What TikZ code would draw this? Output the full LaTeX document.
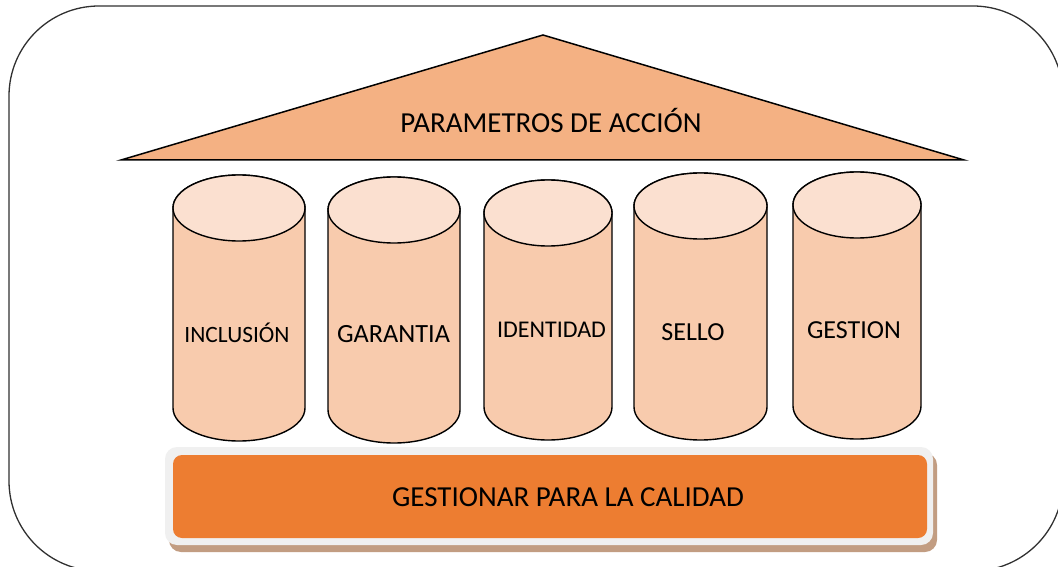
\documentclass[tikz,border=0pt]{standalone}
\usepackage{fontspec}
\setmainfont{Carlito}
\definecolor{roofc}{HTML}{F4B183}
\definecolor{sidec}{HTML}{F8CBAD}
\definecolor{topc}{HTML}{FBE0D0}
\definecolor{barc}{HTML}{ED7D31}
\definecolor{rimc}{HTML}{F0F0F0}
\definecolor{shadc}{HTML}{C29D82}
\definecolor{framec}{HTML}{303030}
\newcommand\pillar[9]{%
  \pgfmathsetmacro\pxa{#2}\pgfmathsetmacro\pxb{#3}%
  \pgfmathsetmacro\prx{(#3-#2)/2}\pgfmathsetmacro\pcx{(#2+#3)/2}%
  \pgfmathsetmacro\ptop{#4+33}\pgfmathsetmacro\pbot{#5-33}%
  \draw[pillarside] (\pxa,\ptop) -- (\pxa,\pbot)
     arc[start angle=180,end angle=0,x radius=\prx,y radius=33]
     -- (\pxb,\ptop)
     arc[start angle=0,end angle=-180,x radius=\prx,y radius=33] -- cycle;
  \draw[pillartop] (\pcx,\ptop) ellipse[x radius=\prx,y radius=33];
  \node[pillarlabel,font=\fontsize{#7}{#7}\selectfont] (#1) at (#8,#9) {#6};
}
\begin{document}
\begin{tikzpicture}[x=1pt,y=-1pt,
  frame/.style={draw=framec,line width=1.3pt,rounded corners=90pt},
  roof/.style={draw=black,line width=1.5pt,fill=roofc,line join=miter},
  pillarside/.style={draw=black,line width=1.4pt,fill=sidec},
  pillartop/.style={draw=black,line width=1.4pt,fill=topc},
  pillarlabel/.style={inner sep=0pt,text=black},
  bigtext/.style={inner sep=0pt,text=black,font=\fontsize{29}{34}\selectfont}]
\useasboundingbox (0,0) rectangle (1058,567);
\clip (0,0) rectangle (1058,567);
\fill[white] (0,0) rectangle (1058,567);
\draw[frame] (9,6) rectangle (1063,571);
% roof
\coordinate (rl) at (121,160);
\coordinate (rt) at (543,35);
\coordinate (rr) at (964,160);
\draw[roof] (rl) -- (rt) -- (rr) -- cycle;
\node[bigtext] (roofText) at (551,120) {PARAMETROS DE ACCIÓN};
% pillars
\pillar{p1}{173}{305}{175}{441}{INCLUSIÓN}{23.4}{237}{333}
\pillar{p2}{328}{460}{177}{443}{GARANTIA}{26.3}{393.5}{334}
\pillar{p3}{484}{612}{180}{440}{IDENTIDAD}{24}{551.5}{330}
\pillar{p4}{634}{767}{173}{440}{SELLO}{26}{693}{332}
\pillar{p5}{793}{921}{172}{439}{GESTION}{26}{854}{330}
% base
\fill[shadc,rounded corners=12pt] (169,453) rectangle (937,552);
\fill[rimc,rounded corners=12pt] (165,447) rectangle (933,545);
\node[fill=barc,rounded corners=9pt,minimum width=754pt,minimum height=83pt,inner sep=0pt] (base) at (550,496.5) {};
\node[bigtext] (baseText) at (568,497) {GESTIONAR PARA LA CALIDAD};
\end{tikzpicture}
\end{document}
